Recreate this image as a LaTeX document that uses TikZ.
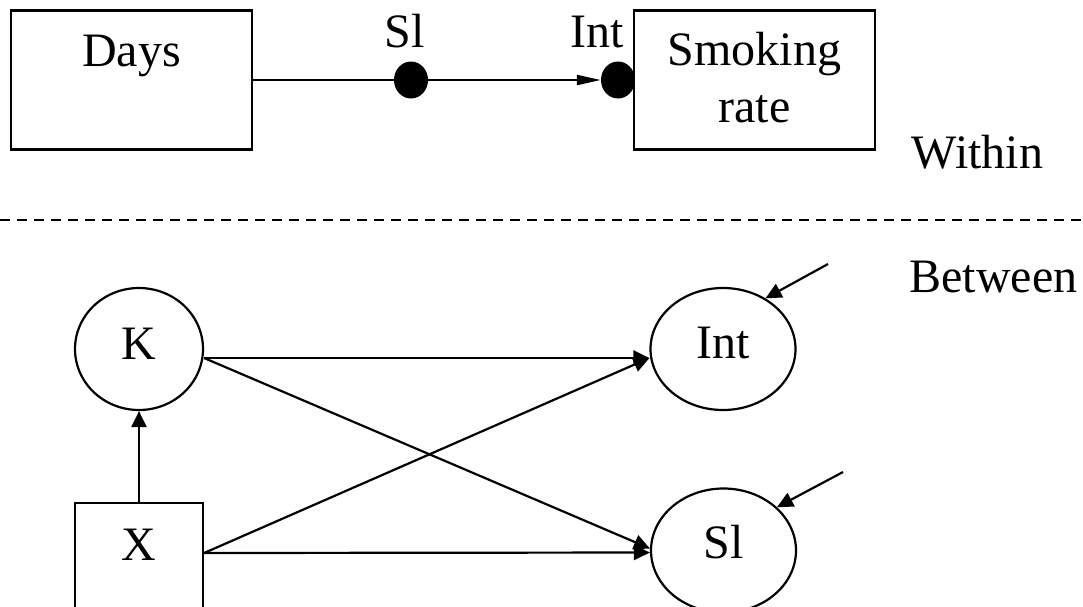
\documentclass[tikz,border=0pt]{standalone}
\usepackage{fontspec}
\setmainfont{Liberation Serif}
\usetikzlibrary{arrows.meta,shapes.geometric}
\begin{document}
\begin{tikzpicture}[x=1pt,y=-1pt,
  lbl/.style={font=\fontsize{48}{57}\selectfont, inner sep=0pt},
  boxnode/.style={draw, line width=2.2pt, rectangle, inner sep=0pt, font=\fontsize{48}{57}\selectfont, text height=32pt},
  latent/.style={draw, line width=2.2pt, ellipse, inner sep=0pt, font=\fontsize{48}{57}\selectfont, text height=32pt},
  dotnode/.style={fill=black, ellipse, inner sep=0pt},
  conn/.style={line width=2.2pt},
  arr/.style={line width=2.2pt, -{Triangle[length=16pt,width=15pt]}},
  slimarr/.style={line width=2.2pt, -{Triangle[length=24pt,width=10pt]}},
  sep/.style={line width=1.6pt, dash pattern=on 10pt off 7pt}]
\path[use as bounding box, clip] (0,0) rectangle (1083,606);
% Within level
\node[boxnode, minimum width=241pt, minimum height=139pt, text depth=59pt] (days) at (131.5,80) {Days};
\node[draw, line width=2.2pt, rectangle, inner sep=0pt, minimum width=241pt, minimum height=139pt] (smk) at (754.5,80) {};
\node[lbl, align=center, anchor=north] (smkt) at (754.5,32) {Smoking\\rate};
\node[dotnode, minimum width=34pt, minimum height=37pt] (sldot) at (411,80) {};
\node[dotnode, minimum width=34pt, minimum height=37pt] (intdot) at (618,80) {};
\node[lbl, anchor=base] (slt) at (405,47) {Sl};
\node[lbl, anchor=base] (intt) at (597,47) {Int};
\node[lbl, anchor=base] (within) at (977.5,168) {Within};
\draw[conn] (days.east) -- (sldot.west);
\draw[slimarr] (sldot.east) -- (intdot.west);
% separator
\coordinate (dl) at (0,220);
\coordinate (dr) at (1083,220);
\draw[sep] (dl) -- (dr);
% Between level
\node[lbl, anchor=base] (between) at (993.5,292) {Between};
\node[latent, minimum width=128pt, minimum height=122pt, text depth=12pt] (K) at (139,349) {K};
\node[boxnode, minimum width=128pt, minimum height=110pt, text depth=28pt] (X) at (139,558) {X};
\node[latent, minimum width=145pt, minimum height=122pt, text depth=14pt] (Int) at (723,349) {Int};
\node[latent, minimum width=145pt, minimum height=124pt, text depth=17pt] (Sl) at (723.5,550.5) {Sl};
\draw[arr] (X.north) -- (K.south);
\draw[arr] ([yshift=-9pt]K.east) -- ([yshift=-9pt]Int.west);
\draw[arr] ([yshift=-9pt]K.east) -- ([yshift=2pt]Sl.west);
\draw[arr] ([yshift=5pt]X.east) -- ([yshift=-9pt]Int.west);
\draw[arr] ([yshift=5pt]X.east) -- ([yshift=-2pt]Sl.west);
\coordinate (ri) at (828,264);
\coordinate (rs) at (843,472);
\draw[arr] (ri) -- (Int.50);
\draw[arr] (rs) -- (Sl.39);
\end{tikzpicture}
\end{document}
